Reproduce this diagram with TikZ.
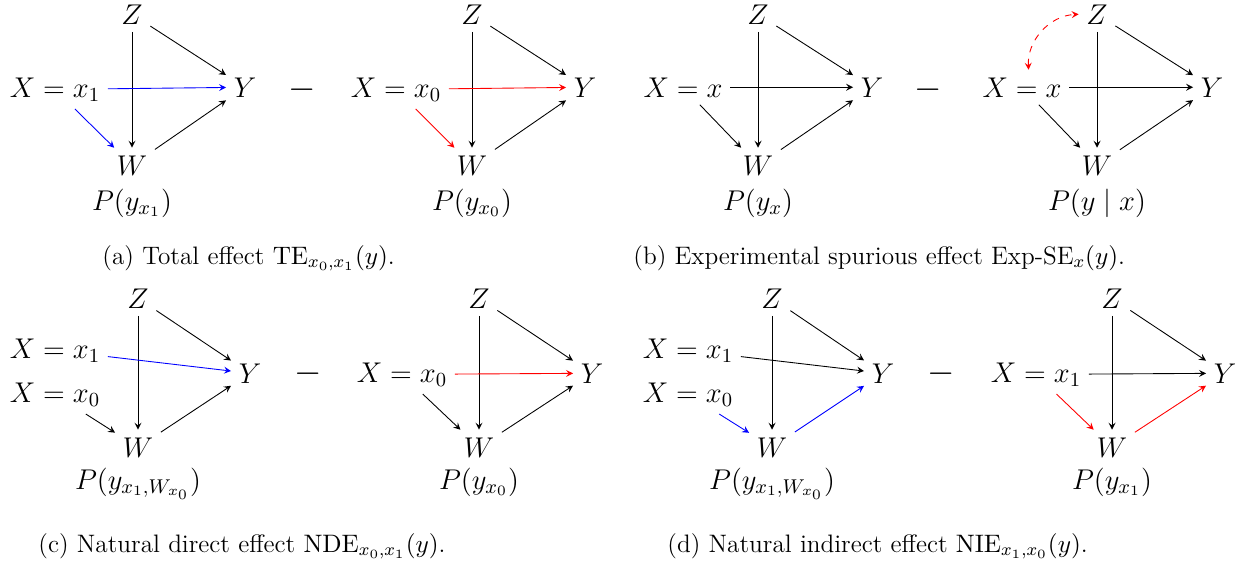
\RequirePackage{fix-cm}
\documentclass[tikz,border=0pt]{standalone}
\usepackage{amsmath}

\begin{document}
\begin{tikzpicture}[x=0.016cm, y=-0.016cm, >=stealth,
  var/.style={font=\fontsize{13}{15}\selectfont, anchor=base},
  minus/.style={font=\fontsize{16}{18}\selectfont, anchor=base},
  subcap/.style={font=\fontsize{11.5}{14}\selectfont, anchor=base west, inner sep=0pt},
  spur/.style={red, dashed, <->}]
  \useasboundingbox (0,0) rectangle (1254,565);

  % (a) total effect
  \node[var] (aZL) at (132,24) {$Z$};
  \node[var] (aXL) at (55,97) {$X = x_1$};
  \node[var] (aYL) at (245,97) {$Y$};
  \node[var] (aWL) at (132,175) {$W$};
  \node[var] (aPL) at (132,210) {$P(y_{x_1})$};
  \node[minus] (aM) at (302,98) {$-$};
  \node[var] (aZR) at (472,24) {$Z$};
  \node[var] (aXR) at (396,97) {$X = x_0$};
  \node[var] (aYR) at (585,97) {$Y$};
  \node[var] (aWR) at (472,175) {$W$};
  \node[var] (aPR) at (472,210) {$P(y_{x_0})$};
  \draw[->] (aZL) -- (aWL);
  \draw[->] (aZL) -- (aYL);
  \draw[->] (aWL) -- (aYL);
  \draw[->, blue] (aXL) -- (aYL);
  \draw[->, blue] (aXL) -- (aWL);
  \draw[->] (aZR) -- (aWR);
  \draw[->] (aZR) -- (aYR);
  \draw[->] (aWR) -- (aYR);
  \draw[->, red] (aXR) -- (aYR);
  \draw[->, red] (aXR) -- (aWR);
  \node[subcap] (aCap) at (102,264) {(a) Total effect $\mathrm{TE}_{x_0,x_1}(y)$.};

  % (b) experimental spurious effect
  \node[var] (bZL) at (758,24) {$Z$};
  \node[var] (bXL) at (683,97) {$X = x$};
  \node[var] (bYL) at (872,97) {$Y$};
  \node[var] (bWL) at (758,175) {$W$};
  \node[var] (bPL) at (758,210) {$P(y_x)$};
  \node[minus] (bM) at (928,98) {$-$};
  \node[var] (bZR) at (1097,24) {$Z$};
  \node[var] (bXR) at (1022,97) {$X = x$};
  \node[var] (bYR) at (1212,97) {$Y$};
  \node[var] (bWR) at (1097,175) {$W$};
  \node[var] (bPR) at (1097,210) {$P(y \mid x)$};
  \draw[->] (bZL) -- (bWL);
  \draw[->] (bZL) -- (bYL);
  \draw[->] (bWL) -- (bYL);
  \draw[->] (bXL) -- (bYL);
  \draw[->] (bXL) -- (bWL);
  \draw[->] (bZR) -- (bWR);
  \draw[->] (bZR) -- (bYR);
  \draw[->] (bWR) -- (bYR);
  \draw[->] (bXR) -- (bYR);
  \draw[->] (bXR) -- (bWR);
  \draw[spur] ([xshift=3pt]bXR.north) to[bend left=45] (bZR.west);
  \node[subcap] (bCap) at (633,264) {(b) Experimental spurious effect Exp-SE$_x(y)$.};

  % (c) natural direct effect
  \node[var] (cZL) at (138,308) {$Z$};
  \node[var] (cX1L) at (55,358) {$X = x_1$};
  \node[var] (cX0L) at (55,402) {$X = x_0$};
  \node[var] (cYL) at (250,383) {$Y$};
  \node[var] (cWL) at (138,457) {$W$};
  \node[var] (cPL) at (138,489) {$P(y_{x_1,W_{x_0}})$};
  \node[minus] (cM) at (308,382) {$-$};
  \node[var] (cZR) at (479,308) {$Z$};
  \node[var] (cXR) at (402,382) {$X = x_0$};
  \node[var] (cYR) at (592,383) {$Y$};
  \node[var] (cWR) at (479,457) {$W$};
  \node[var] (cPR) at (479,489) {$P(y_{x_0})$};
  \draw[->] (cZL) -- (cWL);
  \draw[->] (cZL) -- (cYL);
  \draw[->] (cWL) -- (cYL);
  \draw[->, blue] (cX1L) -- (cYL);
  \draw[->] (cX0L) -- (cWL);
  \draw[->] (cZR) -- (cWR);
  \draw[->] (cZR) -- (cYR);
  \draw[->] (cWR) -- (cYR);
  \draw[->, red] (cXR) -- (cYR);
  \draw[->] (cXR) -- (cWR);
  \node[subcap] (cCap) at (38,552) {(c) Natural direct effect $\mathrm{NDE}_{x_0,x_1}(y)$.};

  % (d) natural indirect effect
  \node[var] (dZL) at (772,308) {$Z$};
  \node[var] (dX1L) at (688,358) {$X = x_1$};
  \node[var] (dX0L) at (688,402) {$X = x_0$};
  \node[var] (dYL) at (883,383) {$Y$};
  \node[var] (dWL) at (772,457) {$W$};
  \node[var] (dPL) at (772,489) {$P(y_{x_1,W_{x_0}})$};
  \node[minus] (dM) at (941,382) {$-$};
  \node[var] (dZR) at (1112,308) {$Z$};
  \node[var] (dXR) at (1036,382) {$X = x_1$};
  \node[var] (dYR) at (1225,383) {$Y$};
  \node[var] (dWR) at (1112,457) {$W$};
  \node[var] (dPR) at (1112,489) {$P(y_{x_1})$};
  \draw[->] (dZL) -- (dWL);
  \draw[->] (dZL) -- (dYL);
  \draw[->, blue] (dWL) -- (dYL);
  \draw[->] (dX1L) -- (dYL);
  \draw[->, blue] (dX0L) -- (dWL);
  \draw[->] (dZR) -- (dWR);
  \draw[->] (dZR) -- (dYR);
  \draw[->, red] (dWR) -- (dYR);
  \draw[->] (dXR) -- (dYR);
  \draw[->, red] (dXR) -- (dWR);
  \node[subcap] (dCap) at (667,552) {(d) Natural indirect effect $\mathrm{NIE}_{x_1,x_0}(y)$.};
\end{tikzpicture}
\end{document}
